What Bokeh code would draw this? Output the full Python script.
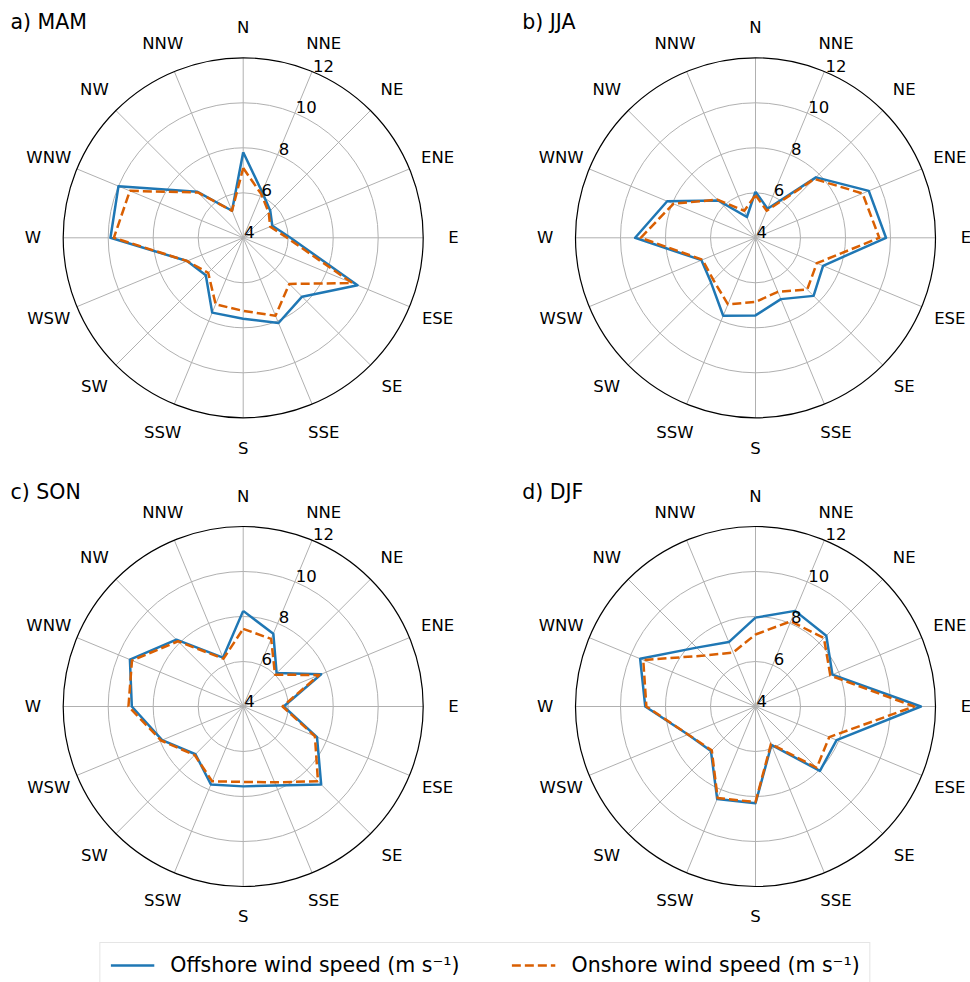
import numpy as np
from bokeh.plotting import figure
from bokeh.models import Range1d, Label, Legend, LegendItem
from bokeh.layouts import column, row
from bokeh.embed import file_html
from bokeh.resources import INLINE
from bokeh.core.properties import value

# ---------------- data ----------------
directions = ["N", "NNE", "NE", "ENE", "E", "ESE", "SE", "SSE",
              "S", "SSW", "SW", "WSW", "W", "WNW", "NW", "NNW"]
radial_ticks = [4, 6, 8, 10, 12]
r_min, r_max = 4, 12

panel_titles = ["a) MAM", "b) JJA", "c) SON", "d) DJF"]

mam_offshore = [7.8, 6.2, 5.7, 5.4, 6.1, 9.5, 7.7, 8.1, 7.6, 7.6, 6.35, 6.7, 9.9, 10.0, 6.9, 5.3]
mam_onshore = [7.1, 6.1, 5.6, 5.3, 5.95, 9.25, 6.9, 7.75, 7.25, 7.2, 6.2, 6.7, 9.75, 9.45, 6.85, 5.3]

jja_offshore = [6.05, 5.4, 7.8, 9.45, 9.8, 7.25, 7.65, 6.95, 7.45, 7.75, 6.8, 6.6, 9.35, 8.25, 6.35, 5.0]
jja_onshore = [5.9, 5.3, 7.7, 9.15, 9.5, 6.95, 7.25, 6.6, 6.85, 7.2, 6.65, 6.55, 9.1, 7.95, 6.4, 5.3]

son_offshore = [8.25, 7.5, 6.1, 7.75, 5.8, 7.55, 8.9, 7.8, 7.55, 7.75, 7.0, 7.9, 8.95, 9.45, 8.2, 6.35]
son_onshore = [7.45, 7.25, 6.0, 7.65, 5.75, 7.45, 8.7, 7.65, 7.35, 7.6, 7.05, 7.95, 9.1, 9.35, 8.1, 6.3]

djf_offshore = [7.95, 8.6, 8.45, 7.7, 11.35, 7.9, 8.05, 5.85, 8.3, 8.45, 6.8, 7.25, 8.9, 9.55, 7.7, 7.1]
djf_onshore = [7.2, 8.1, 8.3, 7.6, 11.05, 7.55, 7.85, 5.8, 8.25, 8.4, 6.75, 7.25, 8.85, 9.4, 7.2, 6.6]

offshore_label = "Offshore wind speed (m s\u207b\u00b9)"
onshore_label = "Onshore wind speed (m s\u207b\u00b9)"

# ---------------- style ----------------
BLUE = "#1f77b4"
ORANGE = "#d95f02"
GRID = "#b0b0b0"
FONT = "DejaVu Sans"
PX = 22.5            # pixels per radial unit
LABEL_R = 9.35       # radial position of compass labels (units from centre)
DASH = "9 4"

theta = np.deg2rad(np.arange(len(directions)) * 360.0 / len(directions))


def polar_xy(vals):
    u = np.asarray(vals, dtype=float) - r_min
    x = u * np.sin(theta)
    y = u * np.cos(theta)
    return np.append(x, x[0]), np.append(y, y[0])


def make_panel(title, offshore, onshore, width, height, cx, cy, title_top, title_left):
    p = figure(width=width, height=height, output_backend="svg", toolbar_location=None,
               x_range=Range1d(-cx / PX, (width - cx) / PX),
               y_range=Range1d(-(height - cy) / PX, cy / PX),
               x_axis_type=None, y_axis_type=None, tools="", min_border=0)
    p.grid.visible = False
    p.outline_line_color = None
    p.background_fill_color = "white"
    p.border_fill_color = "white"

    span = r_max - r_min
    # spokes
    p.segment(x0=np.zeros(len(theta)), y0=np.zeros(len(theta)),
              x1=span * np.sin(theta), y1=span * np.cos(theta),
              line_color=GRID, line_width=1)
    # rings
    inner = [t - r_min for t in radial_ticks[1:-1]]
    p.circle(x=[0] * len(inner), y=[0] * len(inner), radius=inner,
             fill_color=None, line_color=GRID, line_width=1)
    p.circle(x=[0], y=[0], radius=[span], fill_color=None,
             line_color="black", line_width=1.2)

    # data
    xo, yo = polar_xy(offshore)
    p.line(xo, yo, line_color=BLUE, line_width=2.5, line_join="round")
    xn, yn = polar_xy(onshore)
    p.line(xn, yn, line_color=ORANGE, line_width=2.5, line_dash=DASH, line_join="round")

    # radial tick labels along NNE
    a = np.deg2rad(22.5)
    ut = np.array(radial_ticks, dtype=float) - r_min
    p.text(x=ut * np.sin(a), y=ut * np.cos(a), text=[str(t) for t in radial_ticks],
           text_align="left", text_baseline="bottom", x_offset=1,
           text_font=value(FONT), text_font_size="16.5px", text_color="black")

    # compass labels
    p.text(x=LABEL_R * np.sin(theta), y=LABEL_R * np.cos(theta), text=directions,
           text_align="center", text_baseline="middle",
           text_font=value(FONT), text_font_size="16.5px", text_color="black")

    p.add_layout(Label(x=-cx / PX + title_left / PX, y=cy / PX - title_top / PX,
                       text=title, text_align="left", text_baseline="top",
                       text_font=FONT, text_font_size="20.5px", text_color="black"))
    return p


WL, WR = 492, 478
HT, HB, HL = 476, 456, 50

pa = make_panel(panel_titles[0], mam_offshore, mam_onshore, WL, HT, 242.7, 237.3, 9.3, 10)
pb = make_panel(panel_titles[1], jja_offshore, jja_onshore, WR, HT, 263, 237.3, 9.3, 29.7)
pc = make_panel(panel_titles[2], son_offshore, son_onshore, WL, HB, 242.7, 230, 3.3, 10)
pd = make_panel(panel_titles[3], djf_offshore, djf_onshore, WR, HB, 263, 230, 3.3, 29.7)

# legend strip
pl = figure(width=WL + WR, height=HL, output_backend="svg", toolbar_location=None,
            x_range=Range1d(0, 1), y_range=Range1d(0, 1),
            x_axis_type=None, y_axis_type=None, tools="", min_border=0)
pl.grid.visible = False
pl.outline_line_color = None
# legend proxies (drawn outside the visible range)
r1 = pl.line(x=[5, 6], y=[5, 6], line_color=BLUE, line_width=2.5)
r2 = pl.line(x=[5, 6], y=[5, 6], line_color=ORANGE, line_width=2.5, line_dash=DASH)
legend = Legend(items=[LegendItem(label=offshore_label, renderers=[r1]),
                       LegendItem(label=onshore_label, renderers=[r2])],
                orientation="horizontal", location="top_center", margin=10,
                label_text_font=FONT, label_text_font_size="20.5px",
                label_text_color="black", glyph_width=44, glyph_height=22,
                label_standoff=16, spacing=52, padding=10,
                border_line_color="#cccccc", border_line_width=1,
                background_fill_color="white", background_fill_alpha=1.0)
pl.add_layout(legend, "center")

layout = column(row(pa, pb), row(pc, pd), pl)

with open("out.html", "w") as f:
    f.write(file_html(layout, INLINE))
